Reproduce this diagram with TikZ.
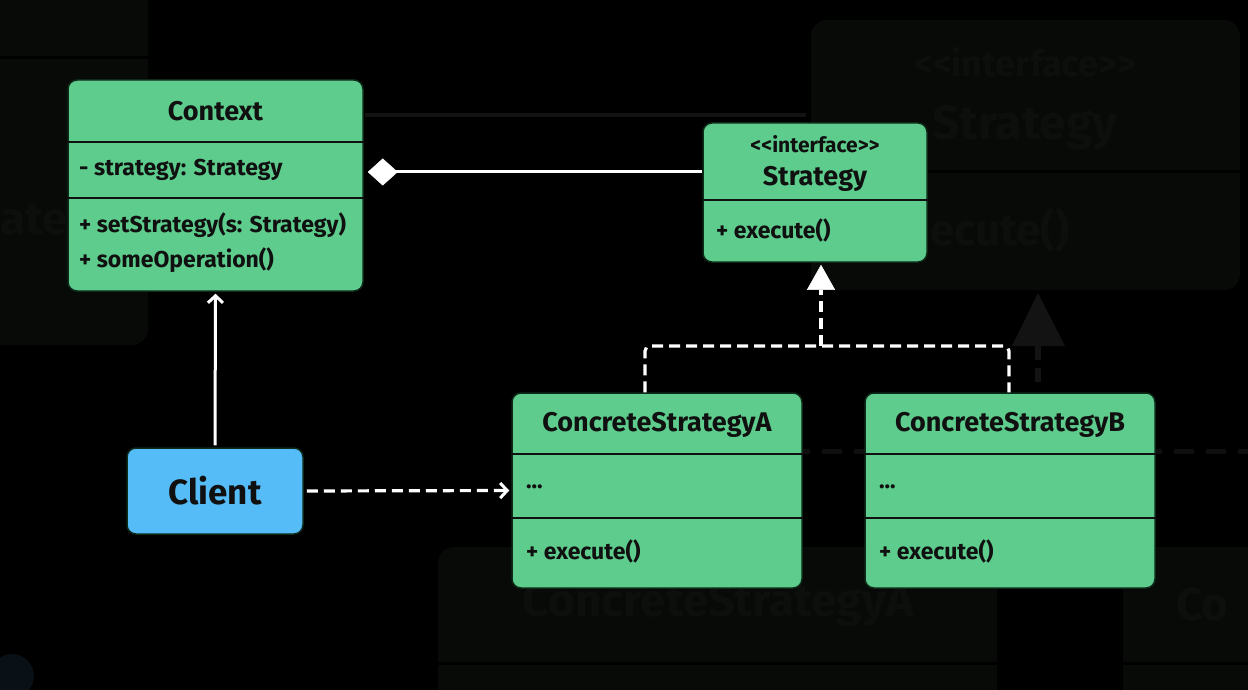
\documentclass[tikz,border=0pt]{standalone}
\usepackage{fontspec}
\setmainfont{Fira Sans}
\usetikzlibrary{arrows.meta}
\definecolor{umlgreen}{HTML}{5DCC8C}
\definecolor{clientblue}{HTML}{55BCF8}
\definecolor{boxedge}{HTML}{0E2A19}
\definecolor{textdark}{HTML}{101010}
\definecolor{ghostfill}{HTML}{070A07}
\definecolor{ghosttext}{HTML}{0C0F0C}
\definecolor{ghostline}{HTML}{131313}
\tikzset{
  cls/.style={rectangle, rounded corners=9pt, fill=umlgreen, draw=boxedge, line width=1.5pt, inner sep=0pt},
  clientbox/.style={cls, fill=clientblue},
  divline/.style={draw=textdark, line width=2pt},
  ttl/.style={text=textdark, inner sep=0pt, font=\bfseries\fontsize{27}{31}\selectfont},
  stereo/.style={text=textdark, inner sep=0pt, font=\bfseries\fontsize{21}{24}\selectfont},
  mem/.style={text=textdark, inner sep=0pt, anchor=west, font=\bfseries\fontsize{23}{27}\selectfont},
  bigtxt/.style={text=textdark, inner sep=0pt, font=\bfseries\fontsize{35}{40}\selectfont},
  wire/.style={draw=white, line width=3pt},
  dashwire/.style={draw=white, line width=3.2pt, dash pattern=on 11pt off 6pt},
  ghostbox/.style={fill=ghostfill, rounded corners=16pt},
  ghostlbl/.style={text=ghosttext, inner sep=0pt},
}
\begin{document}
\begin{tikzpicture}[x=1pt, y=-1pt]
\useasboundingbox (0,0) rectangle (1248,690);
\fill[black] (0,0) rectangle (1248,690);
\clip (0,0) rectangle (1248,690);

% faint background copy
\fill[ghostbox] (-30,-30) rectangle (148,345);
\draw[draw=black, line width=3pt] (0,58) -- (148,58);
\node[ghostlbl, anchor=west, font=\bfseries\fontsize{46}{50}\selectfont] (gTL) at (0,220) {ate};
\fill[ghostbox] (811,20) rectangle (1240,290);
\draw[draw=black, line width=3pt] (811,172) -- (1240,172);
\node[ghostlbl, font=\bfseries\fontsize{36}{40}\selectfont] (gTR1) at (1025,62) {<\kern0pt<interface>\kern0pt>};
\node[ghostlbl, font=\bfseries\fontsize{48}{54}\selectfont] (gTR2) at (1025,128) {Strategy};
\node[ghostlbl, anchor=west, font=\bfseries\fontsize{44}{48}\selectfont] (gTR3) at (930,230) {ecute()};
\fill[fill=ghostline] (1012,346) -- (1038,293) -- (1065,346) -- cycle;
\draw[draw=ghostline, line width=6pt, dash pattern=on 14pt off 8pt] (1038,346) -- (1038,388);
\draw[draw=ghostline!80!black, line width=5pt, dash pattern=on 20pt off 12pt] (790,451) -- (1260,451);
\draw[draw=ghostline, line width=4pt] (365,115) -- (806,115);
\fill[ghostbox] (438,547) rectangle (997,720);
\draw[draw=black, line width=3pt] (438,663) -- (997,663);
\node[ghostlbl, font=\bfseries\fontsize{46}{50}\selectfont] (gB1) at (718,605) {ConcreteStrategyA};
\fill[ghostbox] (1123,547) rectangle (1300,720);
\draw[draw=black, line width=3pt] (1123,663) -- (1300,663);
\node[ghostlbl, anchor=west, font=\bfseries\fontsize{46}{50}\selectfont] (gB2) at (1176,605) {Co};
\fill[fill={rgb,255:red,9;green,16;blue,22}] (12,676) circle (22);

% Context
\node[cls, minimum width=295pt, minimum height=211pt] (ctx) at (215.5,185.5) {};
\node[ttl] (ctxT) at (215.5,111) {Context};
\draw[divline] (ctx.west |- 0,142) -- (ctx.east |- 0,142);
\node[mem] (ctxA) at (79,170) {- strategy: Strategy};
\draw[divline] (ctx.west |- 0,198) -- (ctx.east |- 0,198);
\node[mem] (ctxM1) at (79,225) {+ setStrategy(s: Strategy)};
\node[mem] (ctxM2) at (79,260) {+ someOperation()};

% Strategy
\node[cls, minimum width=224pt, minimum height=139pt] (strat) at (815,192.5) {};
\node[stereo] (stS) at (815,144) {<\kern0pt<interface>\kern0pt>};
\node[ttl] (stT) at (815,179) {Strategy};
\draw[divline] (strat.west |- 0,200) -- (strat.east |- 0,200);
\node[mem] (stM) at (716,230) {+ execute()};

% ConcreteStrategyA
\node[cls, minimum width=290pt, minimum height=195pt] (csa) at (657,490.5) {};
\node[ttl] (csaT) at (657,425) {ConcreteStrategyA};
\draw[divline] (csa.west |- 0,454) -- (csa.east |- 0,454);
\node[mem] (csaA) at (526,487) {...};
\draw[divline] (csa.west |- 0,518) -- (csa.east |- 0,518);
\node[mem] (csaM) at (526,551) {+ execute()};

% ConcreteStrategyB
\node[cls, minimum width=290pt, minimum height=195pt] (csb) at (1010,490.5) {};
\node[ttl] (csbT) at (1010,425) {ConcreteStrategyB};
\draw[divline] (csb.west |- 0,454) -- (csb.east |- 0,454);
\node[mem] (csbA) at (879,487) {...};
\draw[divline] (csb.west |- 0,518) -- (csb.east |- 0,518);
\node[mem] (csbM) at (879,551) {+ execute()};

% Client
\node[clientbox, minimum width=176pt, minimum height=86pt] (client) at (215,491) {};
\node[bigtxt] (clientT) at (215,491) {Client};

% connectors
\draw[wire, shorten >=2pt, shorten <=2pt, -{Straight Barb[length=7pt, width=15pt, line width=3pt]}] (client.north) -- (ctx.south);
\draw[dashwire, shorten >=2pt, shorten <=3pt, -{Straight Barb[length=7pt, width=15pt, line width=3pt]}] (client.east) -- (csa.west);
\coordinate (cd) at (ctx.east |- 0,172);
\coordinate (sd) at (strat.west |- 0,172);
\draw[wire, shorten <=4pt, {Diamond[width=27pt, length=30pt, fill=white, line width=0.5pt]}-] (cd) -- (sd);
\coordinate (ra) at (645,346);
\coordinate (rb) at (1009,346);
\coordinate (rm) at (821,346);
\draw[dashwire, rounded corners=5pt] (csa.north -| ra) -- (ra) -- (rb) -- (csb.north -| rb);
\draw[dashwire, shorten >=2pt, -{Triangle[width=28pt, length=25pt, fill=white, line width=0.5pt]}] (rm) -- (strat.south -| rm);
\end{tikzpicture}
\end{document}
